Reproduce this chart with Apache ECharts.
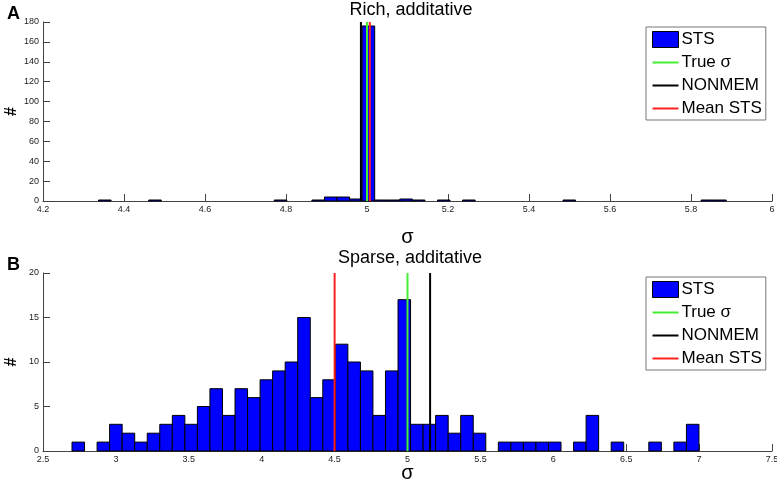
<!DOCTYPE html>
<html>
<head>
<meta charset="utf-8">
<script src="https://cdn.jsdelivr.net/npm/echarts@6/dist/echarts.min.js"></script>
<style>
  html, body { margin: 0; padding: 0; background: #fff; }
  #main { width: 777px; height: 479px; }
</style>
</head>
<body>
<div id="main"></div>
<script>
// panel A (rich): 50 bins, start + width
var richBinStart = 4.337;
var richBinWidth = 0.031;
var richCounts = [1,0,0,0,1,0,0,0,0,0, 0,0,0,0,1,0,0,1,4,4, 2,176,1,1,2,1,0,1,0,1, 0,0,0,0,0,0,0,1,0,0, 0,0,0,0,0,0,0,0,1,1];
var richTrue = 5.0;
var richNonmem = 4.985;
var richMean = 5.007;

// panel B (sparse)
var sparseBinStart = 2.699;
var sparseBinWidth = 0.086;
var sparseCounts = [1,0,1,3,2,1,2,3,4,3, 5,7,4,7,6,8,9,10,15,6, 8,12,10,9,4,9,17,3,3,4, 2,4,2,0,1,1,1,1,1,0, 1,4,0,1,0,0,1,0,1,3];
var sparseTrue = 5.0;
var sparseNonmem = 5.155;
var sparseMean = 4.5;

var legendNames = ['STS', 'True σ', 'NONMEM', 'Mean STS'];
var colBar = '#0000ff', colTrue = '#44ee33', colNon = '#000000', colMean = '#ff2020';
var font = 'Liberation Sans, Arial, sans-serif';

function bins(start, w, counts){
    var out = [];
    counts.forEach(function(c, i){
        if (c > 0) out.push([start + i*w, start + (i+1)*w, c]);
    });
    return out;
}

function renderBar(params, api){
    var p0 = api.coord([api.value(0), api.value(2)]);
    var p1 = api.coord([api.value(1), 0]);
    return {
        type: 'rect',
        shape: {x: p0[0], y: p0[1], width: p1[0]-p0[0], height: p1[1]-p0[1]},
        style: {fill: colBar, stroke: '#000', lineWidth: 1}
    };
}

function vline(name, x, ymax, color, idx){
    return {
        name: name, type: 'line', xAxisIndex: idx, yAxisIndex: idx,
        data: [[x, 0], [x, ymax]], showSymbol: false, symbol: 'none',
        lineStyle: {color: color, width: 2}, itemStyle: {color: color},
        z: 5, animation: false
    };
}

function xAx(idx, min, max, step, gap){
    return {
        gridIndex: idx, type: 'value', min: min, max: max, interval: step,
        name: 'σ', nameLocation: 'middle', nameGap: gap, nameMoveOverlap: false,
        nameTextStyle: {fontFamily: font, fontSize: 20, color: '#000'},
        axisLine: {show: true, lineStyle: {color: '#444', width: 1}},
        axisTick: {inside: true, length: 7, lineStyle: {color: '#444'}},
        axisLabel: {fontFamily: font, fontSize: 9, color: '#222', margin: 4},
        splitLine: {show: false}
    };
}

function yAx(idx, max, step){
    return {
        gridIndex: idx, type: 'value', min: 0, max: max, interval: step,
        name: '#', nameLocation: 'middle', nameGap: 23, nameRotate: 90, nameMoveOverlap: false,
        nameTextStyle: {fontFamily: font, fontSize: 16, fontWeight: 'bold', color: '#000'},
        axisLine: {show: true, lineStyle: {color: '#444', width: 1}},
        axisTick: {show: true, inside: true, length: 7, lineStyle: {color: '#444'}},
        axisLabel: {fontFamily: font, fontSize: 9, color: '#222', margin: 4},
        splitLine: {show: false}
    };
}

function legendAt(top){
    var line = 'path://M0,0H26V2H0Z';
    return {
        orient: 'vertical', left: 646, top: top,
        itemWidth: 26, itemHeight: 16, itemGap: 6,
        padding: [4, 4, 3, 6],
        borderColor: '#777', borderWidth: 1, backgroundColor: '#fff',
        selectedMode: false,
        textStyle: {fontFamily: font, fontSize: 17, color: '#000', width: 86, padding: [0, 0, 0, -2]},
        data: [
            {name: legendNames[0], icon: 'rect', itemStyle: {color: colBar, borderColor: '#000', borderWidth: 1}},
            {name: legendNames[1], icon: line},
            {name: legendNames[2], icon: line},
            {name: legendNames[3], icon: line}
        ]
    };
}

var myChart = echarts.init(document.getElementById('main'));
var option = {
    animation: false,
    backgroundColor: '#fff',
    title: [
        {text: 'A', left: 2, top: 0, textStyle: {fontFamily: font, fontSize: 18, fontWeight: 'bold', color: '#000'}},
        {text: 'Rich, additative', left: 406, top: -4, textAlign: 'center', textStyle: {fontFamily: font, fontSize: 18, fontWeight: 'normal', color: '#000'}},
        {text: 'B', left: 2, top: 251, textStyle: {fontFamily: font, fontSize: 18, fontWeight: 'bold', color: '#000'}},
        {text: 'Sparse, additative', left: 405, top: 244, textAlign: 'center', textStyle: {fontFamily: font, fontSize: 18, fontWeight: 'normal', color: '#000'}}
    ],
    legend: [legendAt(27), legendAt(277)],
    grid: [
        {left: 43, right: 5, top: 22, height: 179, containLabel: false, outerBoundsMode: 'none'},
        {left: 43, right: 5, top: 273, height: 178, containLabel: false, outerBoundsMode: 'none'}
    ],
    xAxis: [xAx(0, 4.2, 6, 0.2, 26), xAx(1, 2.5, 7.5, 0.5, 12)],
    yAxis: [yAx(0, 180, 20), yAx(1, 20, 5)],
    series: [
        {name: 'STS', type: 'custom', xAxisIndex: 0, yAxisIndex: 0, renderItem: renderBar,
         itemStyle: {color: colBar, borderColor: '#000'},
         encode: {x: [0, 1], y: 2}, data: bins(richBinStart, richBinWidth, richCounts)},
        vline('True σ', richTrue, 180, colTrue, 0),
        vline('NONMEM', richNonmem, 180, colNon, 0),
        vline('Mean STS', richMean, 180, colMean, 0),
        {name: 'STS', type: 'custom', xAxisIndex: 1, yAxisIndex: 1, renderItem: renderBar,
         itemStyle: {color: colBar, borderColor: '#000'},
         encode: {x: [0, 1], y: 2}, data: bins(sparseBinStart, sparseBinWidth, sparseCounts)},
        vline('True σ', sparseTrue, 20, colTrue, 1),
        vline('NONMEM', sparseNonmem, 20, colNon, 1),
        vline('Mean STS', sparseMean, 20, colMean, 1)
    ]
};
myChart.setOption(option);
</script>
</body>
</html>
